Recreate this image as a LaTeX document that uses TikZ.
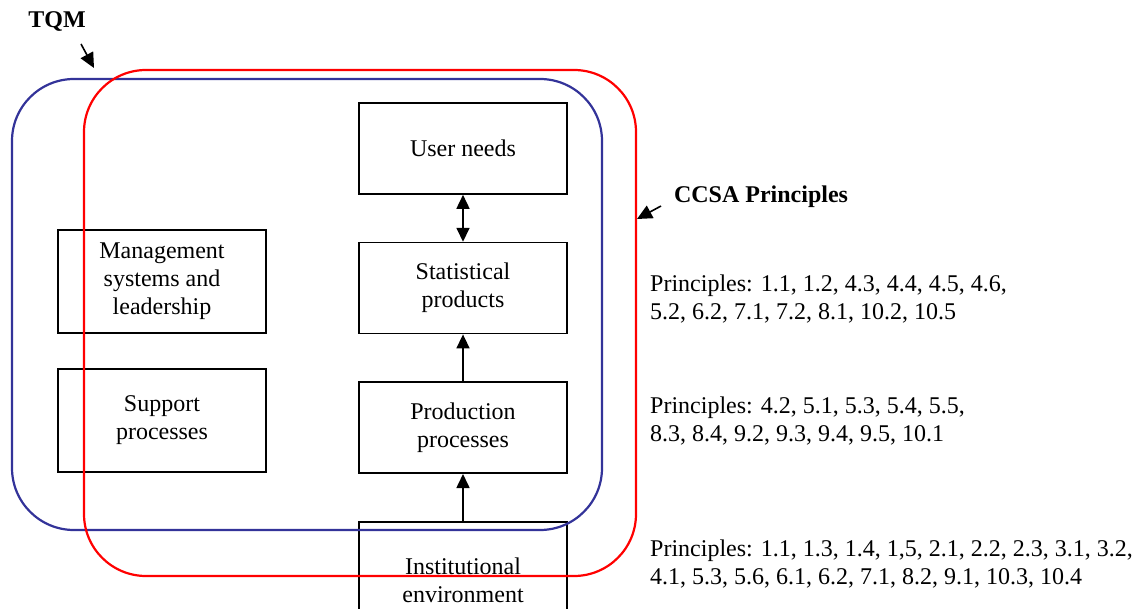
\documentclass[tikz,border=0pt]{standalone}
\usepackage{fontspec}
\setmainfont{Liberation Serif}
\usetikzlibrary{arrows.meta,positioning}

\begin{document}
\begin{tikzpicture}[
  x=1pt, y=-1pt,
  font=\fontsize{24}{28}\selectfont,
  node distance=47pt,
  box/.style={draw, line width=1.6pt, align=center, minimum width=208pt, minimum height=91pt, inner sep=0pt},
  ring/.style={line width=2.2pt, rounded corners=62pt},
  arrow/.style={-{Triangle[length=14pt,width=13pt]}, line width=1.6pt},
  biarrow/.style={{Triangle[length=14pt,width=13pt]}-{Triangle[length=14pt,width=13pt]}, line width=1.6pt},
  pointer/.style={-{Triangle[length=15pt,width=14pt]}, line width=1.6pt},
  princ/.style={align=left, anchor=north west, inner sep=0pt}
]
\useasboundingbox (0,0) rectangle (1134,609);

% central chain
\node[box] (user) at (463,148.5) {User needs};
\node[box, below=of user] (stat) {Statistical\\products};
\node[box, below=of stat] (prod) {Production\\processes};
\node[box, below=of prod, minimum height=116pt] (inst) {Institutional\\environment};

% left boxes
\node[box, minimum height=103pt] (mgmt) at (162,281.5) {Management\\systems and\\leadership};
\node[box, minimum height=103pt] (supp) at (162,420.5) {Support\\processes};

\draw[biarrow] (user) -- (stat);
\draw[arrow] (prod) -- (stat);
\draw[arrow] (inst) -- (prod);

% TQM and CCSA outlines
\draw[ring, draw={rgb,255:red,51;green,51;blue,153}] (12,79) rectangle (602,530);
\draw[ring, draw=red] (84,70) rectangle (636,576);

\node[font=\fontsize{24}{28}\selectfont\bfseries] (tqm) at (57,22) {TQM};
\coordinate (tqmtip) at (94,68);
\draw[pointer] (81,44) -- (tqmtip);

\node[font=\fontsize{24}{28}\selectfont\bfseries] (ccsa) at (761,197) {CCSA Principles};
\coordinate (ccsatip) at (637,219);
\draw[pointer] (661,206) -- (ccsatip);

% principle lists
\node[princ] (p1) at (650,275) {Principles: 1.1, 1.2, 4.3, 4.4, 4.5, 4.6,\\5.2, 6.2, 7.1, 7.2, 8.1, 10.2, 10.5};
\node[princ] (p2) at (650,397) {Principles: 4.2, 5.1, 5.3, 5.4, 5.5,\\8.3, 8.4, 9.2, 9.3, 9.4, 9.5, 10.1};
\node[princ] (p3) at (650,540) {Principles: 1.1, 1.3, 1.4, 1,5, 2.1, 2.2, 2.3, 3.1, 3.2,\\4.1, 5.3, 5.6, 6.1, 6.2, 7.1, 8.2, 9.1, 10.3, 10.4};
\end{tikzpicture}
\end{document}
